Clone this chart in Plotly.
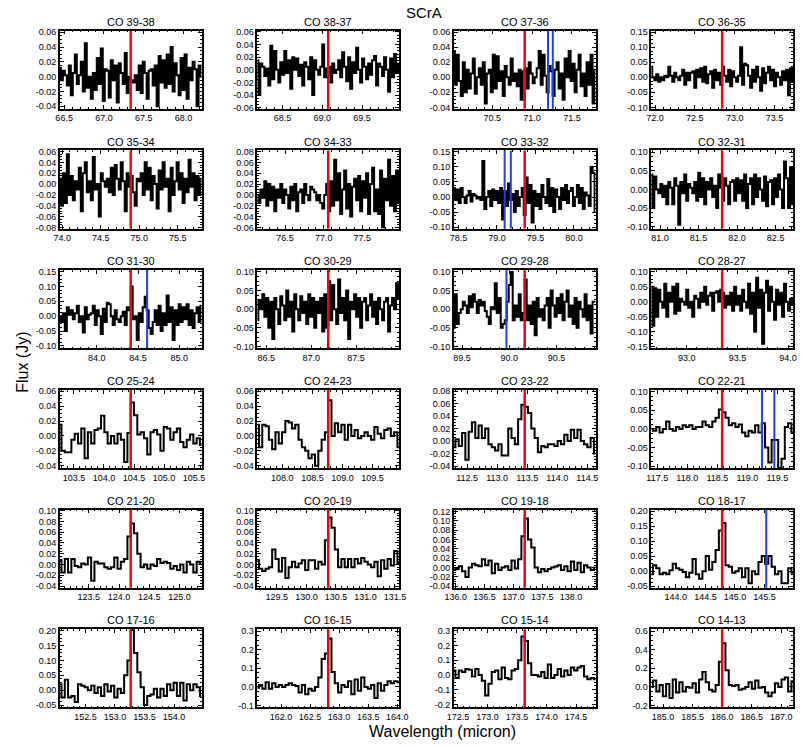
import numpy as np
import plotly.graph_objects as go

FONT = "Liberation Sans, Arial, Helvetica, sans-serif"

# transitions, rest wavelengths (micron) and half-width of each spectral window
lines = ["CO 39-38", "CO 38-37", "CO 37-36", "CO 36-35",
         "CO 35-34", "CO 34-33", "CO 33-32", "CO 32-31",
         "CO 31-30", "CO 30-29", "CO 29-28", "CO 28-27",
         "CO 25-24", "CO 24-23", "CO 23-22", "CO 22-21",
         "CO 21-20", "CO 20-19", "CO 19-18", "CO 18-17",
         "CO 17-16", "CO 16-15", "CO 15-14", "CO 14-13"]
rest_wl = [67.336, 69.074, 70.907, 72.843,
           74.890, 77.059, 79.360, 81.806,
           84.411, 87.190, 90.163, 93.349,
           104.445, 108.763, 113.458, 118.581,
           124.193, 130.369, 137.196, 144.784,
           153.267, 162.812, 173.631, 186.000]
half_width = [0.89, 0.89, 0.89, 0.89,
              0.92, 0.92, 0.92, 0.92,
              0.86, 0.79, 0.75, 0.70,
              1.18, 1.18, 1.18, 1.18,
              1.17, 1.20, 1.23, 1.20,
              1.20, 1.22, 1.20, 1.20]

# other lines marked in blue
blue_wl = [[], [], [71.20, 71.26], [],
           [], [], [79.10, 79.18], [],
           [84.61], [], [89.97], [],
           [], [], [], [119.245, 119.45],
           [], [], [], [145.53],
           [], [], [], []]

# flux (Jy), evenly sampled across each window
flux_39_38 = [0.012, -0.005, 0.008, 0.002, -0.012, 0.015, -0.025, 0.005, 0.030, -0.010, 0.002, 0.020, -0.020, 0.045, -0.015, 0.000, -0.030, 0.005, -0.018, 0.025, -0.010, 0.038, -0.033, 0.010, 0.008, -0.028, 0.022, -0.005, 0.015, -0.035, 0.018, 0.005, -0.010, 0.032, -0.022, 0.000, -0.005, -0.008, 0.002, -0.018, 0.015, -0.022, 0.020, 0.005, -0.030, 0.008, 0.010, -0.012, 0.015, -0.040, 0.028, -0.008, 0.022, -0.015, 0.030, -0.010, 0.040, -0.020, 0.018, 0.002, -0.025, 0.025, -0.018, 0.030, -0.030, 0.012, -0.005, 0.020, 0.010, -0.040, 0.015, 0.000]
flux_38_37 = [0.015, -0.040, 0.010, 0.005, -0.010, 0.002, -0.025, 0.038, -0.015, 0.030, 0.000, -0.020, 0.012, -0.008, 0.030, -0.005, 0.015, -0.030, 0.020, 0.000, 0.018, -0.010, 0.008, -0.025, 0.012, 0.005, -0.015, 0.020, -0.040, 0.015, 0.000, -0.008, 0.005, 0.040, -0.012, 0.002, 0.005, -0.020, 0.010, -0.005, 0.000, 0.015, -0.012, 0.028, 0.005, -0.018, 0.020, -0.030, 0.012, -0.005, 0.035, 0.000, -0.020, 0.018, 0.005, -0.015, 0.010, -0.008, 0.015, 0.022, -0.025, 0.010, 0.005, -0.010, 0.020, 0.000, -0.035, 0.018, -0.012, 0.025, -0.005, 0.010]
flux_37_36 = [0.035, -0.010, 0.030, -0.005, -0.025, 0.020, -0.020, 0.010, -0.015, 0.005, 0.025, -0.022, 0.000, 0.012, -0.010, 0.020, -0.035, 0.005, 0.010, -0.020, 0.030, -0.015, 0.028, -0.005, 0.008, -0.025, 0.015, 0.000, -0.010, 0.025, -0.005, 0.005, -0.012, 0.010, -0.030, 0.008, 0.012, -0.015, 0.020, 0.005, -0.008, 0.000, 0.012, 0.035, -0.010, 0.030, 0.002, -0.020, 0.015, 0.008, -0.025, 0.010, 0.020, -0.015, 0.005, -0.030, 0.025, 0.000, 0.035, -0.005, 0.018, -0.020, 0.010, 0.030, -0.012, 0.005, -0.025, 0.020, -0.010, 0.030, -0.035, 0.010]
flux_36_35 = [0.035, 0.000, -0.010, 0.010, -0.015, 0.000, -0.010, 0.005, 0.000, 0.035, 0.005, -0.015, 0.015, 0.000, -0.010, 0.005, 0.025, -0.025, 0.015, -0.010, 0.015, 0.020, -0.035, 0.025, 0.000, 0.030, -0.015, 0.035, -0.020, 0.010, 0.020, -0.035, 0.025, -0.010, 0.015, -0.025, 0.035, 0.005, -0.015, 0.025, -0.030, 0.020, 0.000, -0.015, 0.005, 0.100, -0.025, 0.045, 0.040, 0.005, -0.035, 0.025, -0.015, 0.035, 0.000, -0.045, 0.030, -0.020, 0.015, 0.035, -0.010, 0.025, -0.030, 0.015, 0.000, -0.025, 0.020, -0.010, 0.025, -0.060, 0.030, -0.015]
flux_35_34 = [0.010, -0.040, 0.020, -0.035, 0.055, -0.020, 0.015, -0.030, 0.005, -0.010, 0.030, -0.050, 0.020, 0.040, -0.015, 0.005, -0.030, 0.050, -0.010, 0.000, -0.060, 0.020, 0.005, -0.005, 0.010, -0.015, 0.030, -0.020, 0.035, 0.010, -0.010, 0.040, 0.005, -0.050, 0.020, -0.005, 0.015, -0.015, -0.040, 0.010, 0.005, 0.020, -0.020, 0.040, -0.010, 0.030, -0.030, 0.015, 0.000, -0.045, 0.025, -0.010, 0.040, -0.005, 0.010, -0.050, 0.030, -0.020, 0.005, 0.040, -0.010, 0.020, -0.035, 0.010, -0.015, 0.045, -0.005, 0.020, -0.030, 0.015, -0.020, 0.010]
flux_34_33 = [0.000, -0.015, 0.010, -0.005, 0.025, -0.020, 0.020, -0.010, 0.015, -0.030, 0.010, -0.005, 0.020, -0.015, 0.010, 0.000, -0.025, 0.015, -0.010, 0.020, -0.030, 0.005, 0.010, -0.015, 0.020, 0.000, -0.010, 0.015, 0.010, 0.005, -0.010, 0.000, -0.015, -0.025, 0.000, 0.020, -0.030, 0.025, -0.020, 0.065, -0.010, 0.040, -0.035, 0.010, 0.045, -0.025, 0.020, -0.040, 0.015, 0.030, -0.010, 0.035, -0.030, 0.025, -0.005, 0.040, -0.035, 0.020, 0.050, -0.030, 0.010, -0.035, 0.045, -0.060, 0.030, -0.010, 0.065, -0.020, 0.035, -0.030, 0.045, -0.015]
flux_33_32 = [0.030, -0.010, 0.025, -0.020, 0.030, 0.000, -0.020, 0.005, 0.020, -0.015, 0.010, 0.005, -0.005, 0.000, -0.010, 0.120, -0.040, 0.000, 0.020, -0.030, 0.025, -0.010, 0.020, -0.020, 0.030, -0.075, 0.020, -0.030, 0.045, -0.010, 0.010, -0.050, 0.020, -0.030, 0.000, 0.030, -0.060, 0.065, -0.020, 0.040, -0.085, 0.020, -0.030, 0.010, -0.040, 0.040, 0.000, -0.020, 0.060, -0.030, 0.030, -0.050, 0.025, 0.000, -0.040, 0.030, -0.010, 0.040, -0.020, 0.020, 0.030, -0.030, 0.000, 0.040, -0.020, 0.030, -0.040, 0.015, 0.005, -0.030, 0.100, 0.080, -0.050]
flux_32_31 = [0.040, -0.050, 0.035, 0.000, -0.010, 0.015, -0.020, 0.010, -0.040, 0.020, 0.005, -0.040, 0.030, 0.010, -0.095, 0.020, -0.010, 0.040, -0.030, 0.015, 0.005, -0.010, 0.020, -0.030, 0.045, -0.020, 0.030, -0.040, 0.020, 0.000, 0.030, -0.020, 0.010, -0.050, 0.040, 0.005, -0.030, 0.030, 0.010, -0.040, 0.020, 0.025, -0.030, 0.030, -0.010, 0.025, -0.030, 0.040, -0.050, 0.015, 0.030, -0.040, 0.040, -0.020, 0.030, 0.000, -0.030, 0.035, -0.045, 0.020, 0.025, -0.040, 0.030, -0.020, 0.040, 0.000, -0.050, 0.075, 0.030, -0.050, 0.060, -0.040]
flux_31_30 = [0.000, -0.020, 0.010, -0.050, 0.030, 0.005, 0.020, -0.010, 0.010, 0.035, -0.020, 0.000, -0.055, 0.030, -0.010, 0.005, 0.010, 0.035, -0.030, 0.020, 0.000, -0.060, 0.025, -0.020, 0.045, 0.040, 0.000, -0.030, 0.020, -0.010, -0.020, 0.000, 0.015, -0.030, 0.030, 0.020, 0.100, -0.010, 0.000, -0.080, 0.010, -0.020, 0.030, 0.065, 0.020, -0.040, -0.060, -0.020, 0.020, -0.030, 0.035, -0.050, 0.010, -0.030, 0.070, -0.020, 0.030, -0.080, 0.020, -0.030, 0.040, -0.020, 0.030, -0.010, 0.040, -0.030, 0.020, -0.040, 0.010, 0.030, -0.020, 0.035]
flux_30_29 = [-0.030, 0.025, 0.000, 0.040, -0.020, 0.030, -0.050, 0.020, -0.080, 0.030, 0.000, -0.040, 0.035, 0.010, -0.030, 0.050, -0.020, 0.020, -0.060, 0.040, 0.000, -0.030, 0.035, -0.010, 0.020, -0.040, 0.040, -0.020, 0.030, -0.050, 0.020, -0.010, 0.030, -0.060, 0.040, -0.050, 0.075, -0.030, 0.065, 0.000, -0.040, 0.080, -0.010, 0.030, -0.030, 0.050, -0.080, 0.020, 0.000, 0.040, -0.020, 0.030, -0.050, 0.020, 0.030, -0.030, 0.010, 0.040, -0.020, 0.020, -0.040, 0.030, 0.000, -0.030, 0.020, 0.030, -0.060, 0.010, 0.030, 0.000, 0.070, 0.030]
flux_29_28 = [-0.050, 0.040, -0.040, -0.010, 0.000, 0.020, 0.010, -0.010, 0.035, 0.005, 0.040, 0.020, -0.010, 0.025, 0.010, 0.020, -0.005, -0.020, -0.040, 0.005, 0.000, 0.070, -0.010, 0.030, -0.050, -0.040, -0.030, 0.020, 0.065, 0.100, -0.030, 0.010, -0.020, 0.040, -0.030, -0.010, 0.080, -0.030, 0.010, -0.040, 0.020, -0.070, 0.030, -0.020, 0.000, -0.030, 0.010, 0.030, -0.050, 0.050, 0.010, -0.020, 0.030, -0.010, 0.040, -0.030, 0.020, 0.050, -0.020, 0.010, -0.040, 0.030, -0.050, 0.020, 0.000, -0.020, 0.040, -0.030, 0.010, -0.065, 0.020, 0.020]
flux_28_27 = [0.050, -0.080, 0.045, -0.050, 0.040, 0.000, -0.020, 0.060, -0.050, 0.030, 0.000, 0.050, -0.040, 0.060, -0.030, 0.010, 0.000, -0.010, 0.040, -0.020, 0.000, -0.050, 0.020, 0.010, -0.020, 0.030, 0.000, 0.050, -0.010, 0.020, 0.030, -0.030, 0.030, 0.035, 0.000, 0.040, 0.030, -0.020, 0.020, -0.010, 0.030, -0.030, 0.050, -0.010, 0.020, -0.030, 0.040, 0.000, -0.020, 0.060, -0.040, 0.030, -0.100, 0.080, -0.020, 0.040, -0.140, 0.030, 0.070, -0.030, 0.050, 0.000, -0.060, 0.040, -0.010, 0.030, -0.050, 0.060, 0.000, -0.030, 0.010, -0.010]
flux_25_24 = [0.015, -0.020, -0.022, -0.022, -0.005, 0.003, -0.010, 0.010, -0.030, 0.005, -0.010, 0.008, 0.010, 0.027, 0.005, -0.010, 0.000, -0.010, 0.003, -0.005, -0.035, 0.004, 0.045, 0.028, 0.002, 0.005, -0.003, -0.025, 0.005, 0.008, 0.002, -0.020, 0.012, 0.010, -0.005, 0.005, 0.010, -0.008, -0.015, -0.005, 0.002, -0.010, -0.003, -0.012]
flux_24_23 = [0.015, -0.015, 0.015, 0.013, -0.005, -0.018, 0.005, -0.010, 0.005, 0.020, 0.018, 0.010, 0.015, -0.005, -0.015, -0.020, -0.030, -0.025, -0.040, -0.020, -0.005, 0.005, 0.048, 0.000, 0.017, 0.005, 0.015, -0.005, 0.015, 0.000, 0.008, -0.003, 0.000, 0.005, 0.000, -0.005, 0.012, 0.003, -0.003, 0.008, 0.010, 0.000, 0.005, -0.015]
flux_23_22 = [-0.010, 0.003, -0.008, 0.013, -0.030, 0.015, 0.030, 0.005, 0.025, 0.005, 0.020, -0.005, -0.010, -0.015, -0.005, -0.023, -0.023, 0.020, 0.005, -0.005, 0.035, 0.058, 0.055, 0.045, 0.020, 0.005, -0.018, -0.008, -0.010, -0.005, -0.005, -0.008, 0.000, -0.005, 0.010, 0.000, 0.018, 0.005, 0.018, 0.000, -0.005, -0.010, 0.005, -0.020]
flux_22_21 = [0.000, -0.005, 0.005, -0.010, 0.000, 0.020, 0.000, -0.005, 0.005, 0.000, 0.010, 0.005, 0.010, 0.000, 0.005, 0.005, 0.020, 0.010, 0.005, 0.020, 0.030, 0.052, 0.045, 0.030, 0.010, 0.015, 0.005, 0.012, -0.010, -0.020, -0.005, -0.010, 0.010, -0.010, 0.015, -0.050, -0.090, -0.030, -0.030, -0.105, -0.080, 0.005, 0.015, -0.010]
flux_21_20 = [0.008, -0.015, 0.010, -0.015, 0.010, -0.003, -0.005, 0.002, 0.000, 0.013, -0.030, 0.005, 0.002, 0.002, -0.005, -0.008, -0.005, 0.013, -0.008, 0.005, 0.010, 0.052, 0.076, 0.058, 0.020, -0.005, 0.000, -0.008, 0.000, -0.003, 0.010, 0.003, 0.005, 0.003, -0.008, -0.003, -0.010, 0.000, -0.015, 0.005, 0.000, -0.015, 0.005, 0.003]
flux_20_19 = [0.008, -0.008, -0.012, -0.008, -0.005, 0.028, 0.010, -0.013, 0.012, -0.025, -0.005, 0.005, -0.005, 0.002, 0.008, -0.010, 0.008, 0.008, -0.008, 0.005, 0.000, 0.045, 0.087, 0.068, 0.028, -0.005, 0.010, -0.005, 0.010, -0.005, 0.010, 0.002, 0.012, 0.005, 0.000, -0.005, 0.005, -0.022, 0.008, -0.008, 0.010, -0.002, 0.025, 0.003]
flux_19_18 = [-0.005, -0.003, 0.003, -0.008, -0.020, 0.000, 0.008, 0.005, 0.003, 0.018, 0.005, 0.015, -0.012, 0.008, -0.005, 0.000, 0.003, -0.005, 0.015, -0.002, 0.018, 0.067, 0.105, 0.060, 0.043, 0.000, -0.010, -0.003, -0.008, -0.003, 0.000, 0.002, 0.005, -0.005, 0.003, -0.008, 0.013, -0.005, 0.010, -0.010, 0.005, 0.000, -0.005, 0.000]
flux_18_17 = [-0.010, 0.020, 0.010, -0.010, -0.005, -0.010, 0.003, 0.025, 0.010, 0.005, -0.003, -0.020, -0.005, 0.040, -0.010, -0.025, 0.000, 0.050, 0.005, 0.030, 0.070, 0.135, 0.160, 0.020, 0.015, -0.005, 0.000, 0.010, -0.020, 0.010, -0.040, 0.000, -0.010, 0.030, 0.050, 0.025, 0.050, 0.015, -0.010, 0.000, -0.040, -0.040, 0.010, -0.005]
flux_17_16 = [0.020, -0.025, 0.035, -0.025, -0.020, -0.040, 0.020, 0.015, 0.010, 0.000, 0.015, -0.010, 0.010, -0.020, 0.020, -0.005, 0.015, -0.025, 0.005, -0.010, 0.050, 0.100, 0.210, 0.125, 0.060, 0.010, -0.050, -0.020, -0.015, 0.005, -0.025, 0.005, -0.020, 0.020, 0.000, 0.025, -0.020, 0.025, -0.035, 0.020, 0.000, 0.020, 0.010, -0.020]
flux_16_15 = [-0.005, 0.010, -0.010, 0.025, -0.010, 0.020, 0.000, 0.010, 0.000, 0.010, 0.020, 0.010, 0.005, -0.030, 0.010, -0.040, -0.010, -0.020, 0.000, 0.050, 0.150, 0.180, 0.260, 0.080, 0.020, -0.030, 0.010, 0.000, 0.030, -0.040, 0.040, -0.020, 0.050, 0.000, -0.010, 0.010, -0.060, 0.020, -0.020, 0.010, 0.030, 0.020, 0.030, 0.025]
flux_15_14 = [0.030, -0.020, 0.030, 0.020, 0.040, 0.035, -0.010, 0.040, 0.000, -0.040, -0.140, -0.060, 0.020, 0.030, -0.030, 0.050, -0.020, -0.030, 0.030, 0.040, 0.100, 0.260, 0.230, 0.080, 0.000, 0.000, -0.010, 0.020, -0.020, 0.070, -0.020, 0.000, 0.040, -0.010, 0.030, 0.000, 0.050, 0.030, 0.050, 0.060, -0.010, -0.030, -0.020, -0.030]
flux_14_13 = [0.000, 0.070, -0.050, 0.020, -0.100, 0.030, -0.120, 0.080, -0.060, 0.050, -0.050, 0.000, -0.010, 0.040, -0.060, 0.080, 0.160, 0.050, -0.030, -0.050, 0.020, 0.270, 0.470, 0.180, 0.020, 0.010, 0.020, -0.030, -0.020, 0.000, 0.050, -0.020, 0.070, -0.010, 0.000, -0.060, -0.100, -0.060, 0.040, 0.000, 0.080, 0.100, -0.050, 0.060]

fluxes = [flux_39_38, flux_38_37, flux_37_36, flux_36_35,
          flux_35_34, flux_34_33, flux_33_32, flux_32_31,
          flux_31_30, flux_30_29, flux_29_28, flux_28_27,
          flux_25_24, flux_24_23, flux_23_22, flux_22_21,
          flux_21_20, flux_20_19, flux_19_18, flux_18_17,
          flux_17_16, flux_16_15, flux_15_14, flux_14_13]

# y axis limits and labelled ticks
y_lo = [-0.0435, -0.062, -0.042, -0.105, -0.082, -0.062, -0.105, -0.105,
        -0.108, -0.105, -0.105, -0.155, -0.043, -0.043, -0.043, -0.105,
        -0.043, -0.043, -0.043, -0.055, -0.058, -0.11, -0.22, -0.22]
y_hi = [0.062, 0.062, 0.062, 0.155, 0.062, 0.082, 0.155, 0.105,
        0.155, 0.105, 0.105, 0.105, 0.062, 0.062, 0.082, 0.105,
        0.102, 0.102, 0.124, 0.205, 0.205, 0.31, 0.31, 0.62]
y_tick0 = [-0.04, -0.06, -0.04, -0.10, -0.08, -0.06, -0.10, -0.10,
           -0.10, -0.10, -0.10, -0.15, -0.04, -0.04, -0.04, -0.10,
           -0.04, -0.04, -0.04, -0.05, -0.05, -0.1, -0.2, -0.2]
y_dtick = [0.02, 0.02, 0.02, 0.05, 0.02, 0.02, 0.05, 0.05,
           0.05, 0.05, 0.05, 0.05, 0.02, 0.02, 0.02, 0.05,
           0.02, 0.02, 0.02, 0.05, 0.05, 0.1, 0.1, 0.2]
y_decimals = [2] * 21 + [1, 1, 1]

W, H = 804, 746
col_left = [52, 254, 455, 657]
row_top = [27, 148, 269, 390, 511, 632]
pw, ph = 145, 79


def px(x):
    return x / W


def py(y):
    return 1 - y / H


fig = go.Figure()
axis_style = dict(showline=True, linecolor="black", linewidth=1.5, mirror="allticks",
                  ticks="inside", ticklen=4, tickwidth=1, tickcolor="black",
                  showgrid=False, zeroline=False,
                  tickfont=dict(family=FONT, size=9, color="black"))
layout_axes = {}
annotations = []

for i in range(24):
    r, c = divmod(i, 4)
    n = i + 1
    xa = "x" if n == 1 else f"x{n}"
    ya = "y" if n == 1 else f"y{n}"
    lo = rest_wl[i] - half_width[i]
    hi = rest_wl[i] + half_width[i]
    wl = np.linspace(lo, hi, len(fluxes[i]))

    fig.add_trace(go.Scatter(x=wl, y=fluxes[i], mode="lines",
                             line=dict(shape="hvh", color="black", width=2),
                             xaxis=xa, yaxis=ya, showlegend=False, hoverinfo="skip"))

    x0 = px(col_left[c])
    x1 = px(col_left[c] + pw)
    y1 = py(row_top[r])
    y0 = py(row_top[r] + ph)

    yt = []
    v = y_tick0[i]
    while v <= y_hi[i] + 1e-9:
        yt.append(round(v, 4))
        v += y_dtick[i]
    ytxt = [f"{(0.0 if abs(t) < 1e-9 else t):.{y_decimals[i]}f}" for t in yt]

    layout_axes["xaxis" if n == 1 else f"xaxis{n}"] = dict(
        axis_style, domain=[x0, x1], anchor=ya, range=[lo, hi],
        tickmode="linear", tick0=0, dtick=0.5, tickformat=".1f",
        minor=dict(ticks="inside", ticklen=2, tickcolor="black", dtick=0.1, tick0=0))
    layout_axes["yaxis" if n == 1 else f"yaxis{n}"] = dict(
        axis_style, domain=[y0, y1], anchor=xa, range=[y_lo[i], y_hi[i]],
        tickmode="array", tickvals=yt, ticktext=ytxt,
        minor=dict(ticks="inside", ticklen=2, tickcolor="black",
                   tickmode="linear", tick0=0, dtick=y_dtick[i] / 4))

    for b in blue_wl[i]:
        fig.add_shape(type="line", xref=xa, yref=f"{ya} domain", x0=b, x1=b, y0=0, y1=1,
                      line=dict(color="#1f3ff0", width=2))
    fig.add_shape(type="line", xref=xa, yref=f"{ya} domain", x0=rest_wl[i], x1=rest_wl[i],
                  y0=0, y1=1, line=dict(color="#ff0000", width=2.5))

    annotations.append(dict(text=lines[i], xref="paper", yref="paper",
                            x=(x0 + x1) / 2, y=py(row_top[r] - 9),
                            showarrow=False, xanchor="center", yanchor="middle",
                            font=dict(family=FONT, size=11, color="black")))

annotations.append(dict(text="SCrA", xref="paper", yref="paper", x=px(424), y=py(9),
                        showarrow=False, xanchor="center", yanchor="middle",
                        font=dict(family=FONT, size=15, color="black")))
annotations.append(dict(text="Wavelength (micron)", xref="paper", yref="paper",
                        x=px(443), y=py(735), showarrow=False,
                        xanchor="center", yanchor="middle",
                        font=dict(family=FONT, size=16, color="black")))
annotations.append(dict(text="Flux (Jy)", xref="paper", yref="paper",
                        x=px(13), y=py(362), showarrow=False, textangle=-90,
                        xanchor="center", yanchor="middle",
                        font=dict(family=FONT, size=16, color="black")))

fig.update_layout(width=W, height=H, margin=dict(l=0, r=0, t=0, b=0),
                  paper_bgcolor="white", plot_bgcolor="white",
                  annotations=annotations, **layout_axes)

# drop the default page margin so the figure sits at the window's top-left corner
fig.write_html("out.html", config={"displayModeBar": False},
               post_script="document.body.style.margin='0px';")
